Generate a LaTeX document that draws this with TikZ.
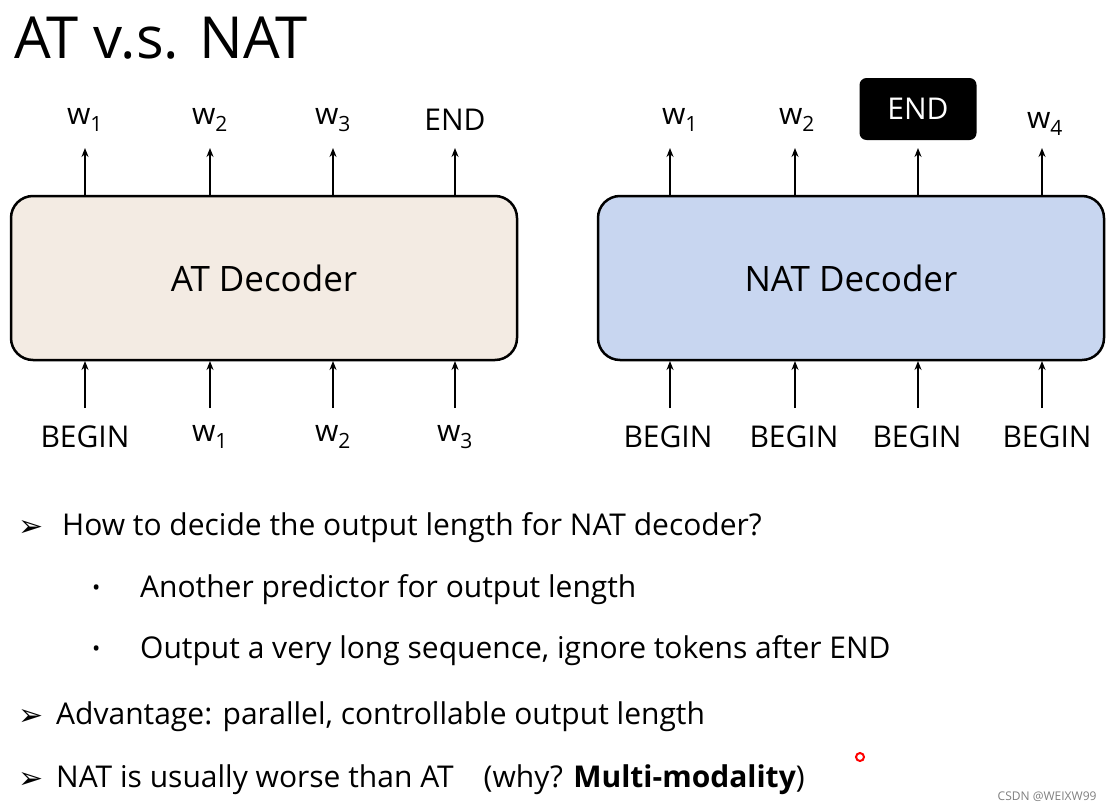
\documentclass[tikz,border=0pt]{standalone}
\usepackage{fontspec}
\usetikzlibrary{arrows.meta}
\setmainfont{Open Sans}
\newfontfamily\symf{DejaVu Sans}
\begin{document}
\begin{tikzpicture}[x=1pt,y=-1pt,
  dec/.style={draw=black,line width=2.5pt,rounded corners=22pt,minimum width=506pt,minimum height=164pt,font=\fontsize{35}{40}\selectfont},
  lab/.style={font=\fontsize{30}{34}\selectfont,inner sep=0pt},
  arr/.style={-{Stealth[length=9pt,width=7pt]},line width=1.6pt},
  txt/.style={anchor=west,font=\fontsize{30}{36}\selectfont,inner sep=0pt}]
\useasboundingbox (0,0) rectangle (1113,811);
\fill[white] (0,0) rectangle (1113,811);
\node[anchor=west,font=\fontsize{58}{64}\selectfont,inner sep=0pt] (title) at (14,38) {AT v.s. NAT};
\node[dec,fill={rgb,255:red,243;green,235;blue,227}] (at) at (264,278) {AT Decoder};
\node[dec,fill={rgb,255:red,200;green,214;blue,240}] (nat) at (851,278) {NAT Decoder};
% AT
\foreach \x/\t/\b [count=\i] in {85/w\textsubscript{1}/BEGIN,210/w\textsubscript{2}/w\textsubscript{1},333/w\textsubscript{3}/w\textsubscript{2},455/END/w\textsubscript{3}}{
  \node[lab] (ato\i) at (\x,120) {\t};
  \node[lab] (ati\i) at (\x,437) {\b};
  \coordinate (atT\i) at (\x,195);
  \coordinate (atB\i) at (\x,361);
  \draw[arr] (atT\i) -- (\x,148);
  \draw[arr] (\x,408) -- (atB\i);
}
% NAT
\node[lab] (no1) at (680,120) {w\textsubscript{1}};
\node[lab] (no2) at (797,120) {w\textsubscript{2}};
\node[fill=black,text=white,rounded corners=7pt,minimum width=117pt,minimum height=62pt,font=\fontsize{30}{34}\selectfont] (no3) at (918,109) {END};
\node[lab] (no4) at (1045,124) {w\textsubscript{4}};
\foreach \x [count=\i] in {670,795,918,1042}{
  \coordinate (nT\i) at (\x,195);
  \coordinate (nB\i) at (\x,361);
  \draw[arr] (nT\i) -- (\x,148);
  \draw[arr] (\x,408) -- (nB\i);
}
\foreach \x [count=\i] in {668,794,917,1047}{
  \node[lab] (ni\i) at (\x,437) {BEGIN};
}
% bullets
\node[txt] (b1s) at (18,528) {\symf ➢};
\node[txt] (b1) at (62,528) {How to decide the output length for NAT decoder?};
\node[txt] (b2s) at (92,590) {\fontsize{22}{26}\selectfont•};
\node[txt] (b2) at (140,590) {Another predictor for output length};
\node[txt] (b3s) at (92,651) {\fontsize{22}{26}\selectfont•};
\node[txt] (b3) at (140,651) {Output a very long sequence, ignore tokens after END};
\node[txt] (b4s) at (18,717) {\symf ➢};
\node[txt] (b4) at (56,717) {Advantage: parallel, controllable output length};
\node[txt] (b5s) at (18,780) {\symf ➢};
\node[txt] (b5) at (56,780) {NAT is usually worse than AT\quad (why? \textbf{Multi-modality})};
\draw[red,line width=2pt] (860,757) circle (4pt);
\node[anchor=east,font=\fontsize{12}{14}\selectfont,text=gray] (wm) at (1100,797) {CSDN @WEIXW99};
\end{tikzpicture}
\end{document}
